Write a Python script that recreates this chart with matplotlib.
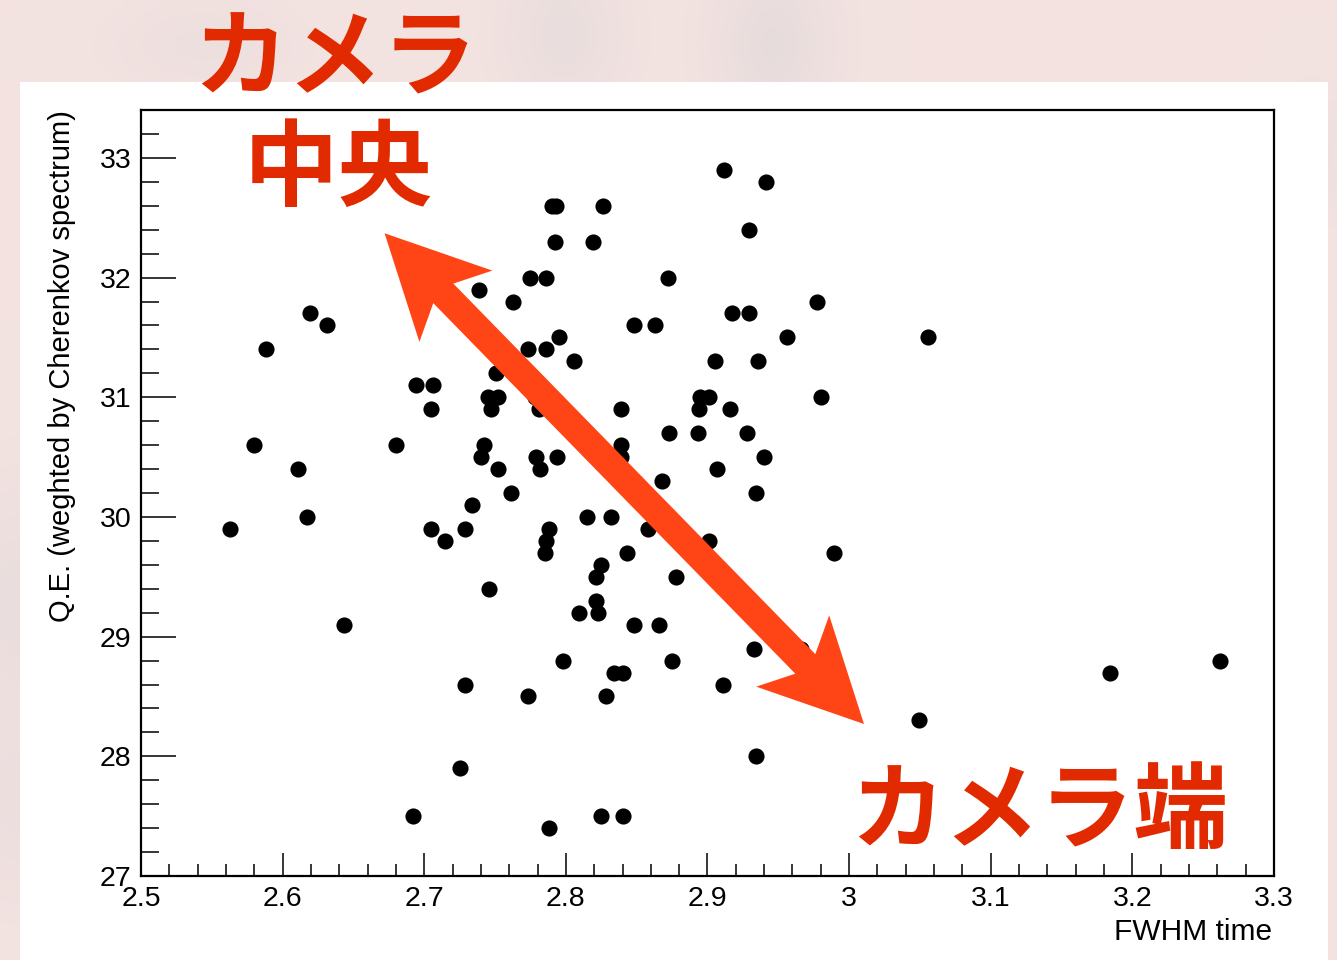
import numpy as np
import matplotlib
matplotlib.use("Agg")
import matplotlib.pyplot as plt
from matplotlib.patches import Polygon, Rectangle
from matplotlib.transforms import IdentityTransform

# FWHM time and Cherenkov-weighted Q.E. per camera module
fwhm = [2.563, 2.580, 2.588, 2.611, 2.617, 2.619, 2.631, 2.643, 2.680, 2.692,
        2.694, 2.706, 2.705, 2.705, 2.715, 2.725, 2.729, 2.729, 2.734, 2.739,
        2.740, 2.742, 2.745, 2.746, 2.747, 2.752, 2.751, 2.752, 2.761, 2.763,
        2.773, 2.773, 2.775, 2.779, 2.781, 2.782, 2.785, 2.786, 2.786, 2.786,
        2.788, 2.788, 2.790, 2.793, 2.792, 2.795, 2.794, 2.798, 2.806, 2.809,
        2.815, 2.819, 2.821, 2.821, 2.823, 2.825, 2.825, 2.826, 2.828, 2.832,
        2.834, 2.839, 2.839, 2.839, 2.840, 2.840, 2.843, 2.848, 2.848, 2.858,
        2.863, 2.866, 2.868, 2.872, 2.873, 2.875, 2.878, 2.893, 2.895, 2.894,
        2.901, 2.901, 2.905, 2.907, 2.911, 2.912, 2.916, 2.917, 2.928, 2.929,
        2.929, 2.933, 2.934, 2.934, 2.936, 2.940, 2.941, 2.956, 2.966, 2.977,
        2.980, 2.989, 3.049, 3.056, 3.184, 3.262, 2.778]
qe = [29.9, 30.6, 31.4, 30.4, 30.0, 31.7, 31.6, 29.1, 30.6, 27.5,
      31.1, 31.1, 30.9, 29.9, 29.8, 27.9, 29.9, 28.6, 30.1, 31.9,
      30.5, 30.6, 31.0, 29.4, 30.9, 31.0, 31.2, 30.4, 30.2, 31.8,
      31.4, 28.5, 32.0, 30.5, 30.9, 30.4, 29.7, 29.8, 32.0, 31.4,
      29.9, 27.4, 32.6, 32.6, 32.3, 31.5, 30.5, 28.8, 31.3, 29.2,
      30.0, 32.3, 29.3, 29.5, 29.2, 29.6, 27.5, 32.6, 28.5, 30.0,
      28.7, 30.9, 30.6, 30.5, 28.7, 27.5, 29.7, 31.6, 29.1, 29.9,
      31.6, 29.1, 30.3, 32.0, 30.7, 28.8, 29.5, 30.7, 31.0, 30.9,
      31.0, 29.8, 31.3, 30.4, 28.6, 32.9, 30.9, 31.7, 30.7, 31.7,
      32.4, 28.9, 30.2, 28.0, 31.3, 30.5, 32.8, 31.5, 28.9, 31.8,
      31.0, 29.7, 28.3, 31.5, 28.7, 28.8, 31.0]

x_ticks = [2.5, 2.6, 2.7, 2.8, 2.9, 3.0, 3.1, 3.2, 3.3]
x_ticklabels = ["2.5", "2.6", "2.7", "2.8", "2.9", "3", "3.1", "3.2", "3.3"]
y_ticks = [27, 28, 29, 30, 31, 32, 33]

W, H, DPI = 1337, 960, 100
TEXT_RED = "#E22A00"
ARROW_RED = "#FF4416"

plt.rcParams["font.family"] = ["Liberation Sans", "DejaVu Sans"]

fig = plt.figure(figsize=(W / DPI, H / DPI), dpi=DPI, facecolor="#F3E3E1")

# faded photo behind the panel: a few soft grey blobs on pink
bg = fig.add_axes([0, 0, 1, 1], zorder=-10)
gy, gx = np.mgrid[0:96, 0:134]
field = np.zeros_like(gx, dtype=float)
for cx, cy, sx, sy, amp in [(56, 3, 4, 5, 0.25), (77, 4, 4, 6, 0.3),
                            (20, 4, 6, 3, 0.15), (1, 60, 2, 8, 0.25),
                            (1, 80, 2, 6, 0.2), (131, 15, 2, 4, 0.2)]:
    field += amp * np.exp(-((gx - cx) ** 2 / (2 * sx ** 2) + (gy - cy) ** 2 / (2 * sy ** 2)))
pink = np.array([0.953, 0.890, 0.882])
grey = np.array([0.80, 0.80, 0.82])
rgb = pink[None, None, :] * (1 - field[..., None]) + grey[None, None, :] * field[..., None]
bg.imshow(rgb, extent=[0, 1, 0, 1], aspect="auto", interpolation="bicubic")
bg.axis("off")

# white canvas of the plot
fig.patches.append(Rectangle((20 / W, 0), 1308 / W, (H - 82) / H,
                             transform=fig.transFigure, facecolor="white",
                             edgecolor="none", zorder=-5))

ax = fig.add_axes([141 / W, 84 / H, 1133 / W, 766 / H])
ax.set_facecolor("white")
ax.scatter(fwhm, qe, s=135, color="black", linewidths=0, zorder=3)

ax.set_xlim(2.5, 3.3)
ax.set_ylim(27, 33.4)
ax.set_xticks(x_ticks)
ax.set_xticklabels(x_ticklabels)
ax.set_xticks(np.arange(2.5, 3.3001, 0.02), minor=True)
ax.set_yticks(y_ticks)
ax.set_yticks(np.arange(27, 33.41, 0.2), minor=True)

for sp in ax.spines.values():
    sp.set_linewidth(1.6)
ax.tick_params(axis="both", which="both", direction="in", width=1.1,
               top=False, right=False, labelsize=20.5)
ax.tick_params(axis="x", which="major", length=16.5, pad=7)
ax.tick_params(axis="x", which="minor", length=8.5)
ax.tick_params(axis="y", which="major", length=25, pad=7)
ax.tick_params(axis="y", which="minor", length=13)

fig.text(62 / W, 1 - 110 / H, "Q.E. (weghted by Cherenkov spectrum)",
         rotation=90, ha="center", va="top", fontsize=21)
fig.text(1272 / W, 1 - 932 / H, "FWHM time", ha="right", va="center",
         fontsize=21.5)


def arrow_polygon(p0, p1, head_len=102, head_half=51, notch=84, shaft_half=14):
    """Double-headed notched arrow outline in display pixels."""
    p0, p1 = np.asarray(p0, float), np.asarray(p1, float)
    u = (p1 - p0) / np.hypot(*(p1 - p0))
    n = np.array([-u[1], u[0]])
    pts = [
        p0,
        p0 + head_len * u + head_half * n,
        p0 + notch * u + shaft_half * n,
        p1 - notch * u + shaft_half * n,
        p1 - head_len * u + head_half * n,
        p1,
        p1 - head_len * u - head_half * n,
        p1 - notch * u - shaft_half * n,
        p0 + notch * u - shaft_half * n,
        p0 + head_len * u - head_half * n,
    ]
    return np.array(pts)


fig.canvas.draw()
tail = ax.transData.transform((2.672, 32.37))
head = ax.transData.transform((3.0105, 28.27))
arrow = Polygon(arrow_polygon(tail, head), closed=True, facecolor=ARROW_RED,
                edgecolor="none", transform=IdentityTransform(), zorder=5)
fig.patches.append(arrow)

jp = dict(family=["Noto Sans CJK JP", "DejaVu Sans"], fontweight="bold",
          color=TEXT_RED, fontsize=68, ha="center", va="center", zorder=10)
fig.text(335 / W, 1 - 61 / H, "カメラ", **jp)
fig.text(338 / W, 1 - 171 / H, "中央", **jp)
fig.text(1039 / W, 1 - 813 / H, "カメラ端", **jp)

fig.savefig("out.png", dpi=DPI, facecolor=fig.get_facecolor())
